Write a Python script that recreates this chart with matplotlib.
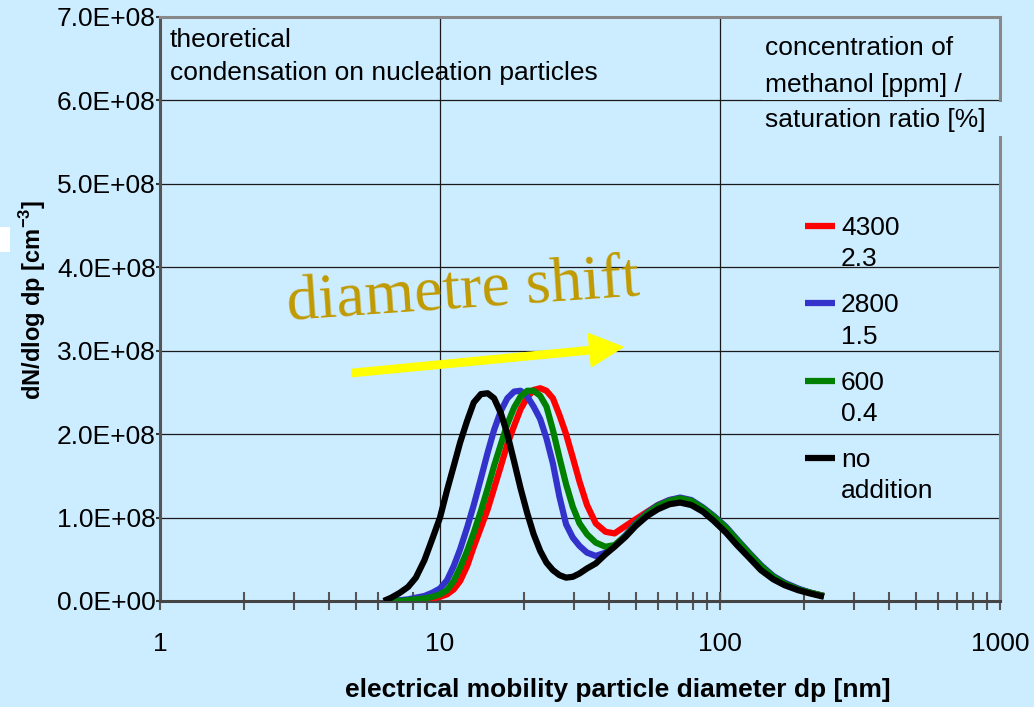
import numpy as np
import matplotlib
matplotlib.use("Agg")
import matplotlib.pyplot as plt
from matplotlib.ticker import FixedLocator, FuncFormatter, NullFormatter
from matplotlib.legend_handler import HandlerLine2D
from matplotlib.lines import Line2D
from matplotlib.patches import Rectangle

plt.rcParams['font.family'] = ['Liberation Sans', 'DejaVu Sans']
plt.rcParams['mathtext.fontset'] = 'custom'
plt.rcParams['mathtext.rm'] = 'Liberation Sans'
plt.rcParams['mathtext.bf'] = 'Liberation Sans:bold'

# particle diameter [nm]
diameter = [6.3, 6.7, 7.2, 7.7, 8.2, 8.8, 9.4, 10, 10.6, 11.2, 11.8, 12.5, 13.2,
            14, 14.8, 15.6, 16.5, 17.4, 18.4, 19.4, 20.5, 21.6, 22.8, 24, 25.3,
            26.7, 28.2, 29.8, 31.5, 33.5, 36, 39, 42, 46, 50, 55, 60, 66, 72, 79,
            87, 95, 105, 115, 127, 140, 155, 170, 190, 210, 235]

# dN/dlog dp in units of 1e8 cm^-3
meoh_4300 = [0.0, 0.0, 0.0, 0.01, 0.01, 0.02, 0.03, 0.05, 0.08, 0.14, 0.24, 0.42,
             0.65, 0.88, 1.10, 1.35, 1.62, 1.88, 2.10, 2.30, 2.44, 2.53, 2.55, 2.52,
             2.43, 2.23, 2.00, 1.72, 1.43, 1.15, 0.93, 0.83, 0.81, 0.90, 0.98, 1.07,
             1.15, 1.21, 1.23, 1.20, 1.11, 1.00, 0.88, 0.73, 0.57, 0.42, 0.29, 0.21,
             0.14, 0.10, 0.06]
meoh_2800 = [0.0, 0.0, 0.01, 0.02, 0.04, 0.06, 0.10, 0.15, 0.25, 0.42, 0.62, 0.88,
             1.15, 1.47, 1.78, 2.05, 2.28, 2.43, 2.51, 2.52, 2.45, 2.33, 2.18, 1.95,
             1.65, 1.25, 0.92, 0.76, 0.66, 0.58, 0.54, 0.58, 0.66, 0.79, 0.93, 1.06,
             1.15, 1.21, 1.24, 1.21, 1.12, 1.02, 0.89, 0.74, 0.58, 0.43, 0.30, 0.22,
             0.15, 0.10, 0.06]
meoh_600 = [0.0, 0.0, 0.0, 0.01, 0.02, 0.03, 0.05, 0.08, 0.13, 0.24, 0.40, 0.60,
            0.82, 1.08, 1.35, 1.62, 1.88, 2.12, 2.32, 2.45, 2.52, 2.52, 2.46, 2.33,
            2.05, 1.72, 1.40, 1.13, 0.93, 0.80, 0.70, 0.65, 0.67, 0.78, 0.92, 1.05,
            1.14, 1.20, 1.23, 1.20, 1.11, 1.01, 0.88, 0.73, 0.57, 0.42, 0.29, 0.21,
            0.14, 0.10, 0.06]
no_addition = [0.0, 0.04, 0.10, 0.17, 0.28, 0.49, 0.75, 1.00, 1.33, 1.62, 1.90, 2.16,
               2.38, 2.48, 2.49, 2.43, 2.25, 2.00, 1.67, 1.35, 1.05, 0.80, 0.60, 0.46,
               0.37, 0.31, 0.28, 0.29, 0.33, 0.39, 0.45, 0.56, 0.65, 0.77, 0.90, 1.02,
               1.10, 1.16, 1.18, 1.15, 1.07, 0.96, 0.82, 0.67, 0.52, 0.37, 0.26, 0.19,
               0.13, 0.09, 0.05]

series_labels = ["4300\n2.3", "2800\n1.5", "600\n0.4", "no\naddition"]
series_colors = ["#FF0000", "#3333CC", "#008000", "#000000"]

y_ticks = [0, 1e8, 2e8, 3e8, 4e8, 5e8, 6e8, 7e8]
x_ticks = [1, 10, 100, 1000]
x_tick_labels = ["1", "10", "100", "1000"]

BG = "#CCECFF"
FS = 19

fig = plt.figure(figsize=(10.34, 7.07), dpi=100, facecolor=BG)
ax = fig.add_axes([160 / 1034, 1 - 601 / 707, 840 / 1034, 584 / 707])
ax.set_facecolor(BG)

d = np.array(diameter)
curves = [meoh_4300, meoh_2800, meoh_600, no_addition]
# reference run first so the methanol runs sit on top of it
handles = [None] * 4
for i in [3, 0, 1, 2]:
    (ln,) = ax.plot(d, np.array(curves[i]) * 1e8, color=series_colors[i], lw=4.5,
                    solid_capstyle='butt', solid_joinstyle='round', zorder=3 + i * 0.1)
    handles[i] = ln

ax.set_xscale('log')
ax.set_xlim(1, 1000)
ax.set_ylim(0, 7e8)

ax.yaxis.set_major_locator(FixedLocator(y_ticks))
ax.yaxis.set_major_formatter(FuncFormatter(lambda v, p: f"{v:.1E}"))
ax.xaxis.set_major_locator(FixedLocator(x_ticks))
ax.xaxis.set_major_formatter(FuncFormatter(
    lambda v, p: x_tick_labels[x_ticks.index(round(v))] if round(v) in x_ticks else ""))
ax.xaxis.set_minor_locator(FixedLocator([m * 10 ** e for e in range(0, 3) for m in range(2, 10)]))
ax.xaxis.set_minor_formatter(NullFormatter())

ax.tick_params(axis='y', which='major', direction='out', length=3, width=1.5,
               color='#333333', labelsize=FS, pad=0)
ax.tick_params(axis='x', which='both', direction='inout', length=13, width=1.5,
               color='#555555', labelsize=FS, pad=16)

ax.grid(True, which='major', axis='both', color='#1a1a1a', lw=0.9)
ax.set_axisbelow(True)

for side in ['top', 'right']:
    ax.spines[side].set_color('#888888')
    ax.spines[side].set_linewidth(2.2)
ax.spines['left'].set_color('#555555')
ax.spines['left'].set_linewidth(2.2)
ax.spines['bottom'].set_color('#444444')
ax.spines['bottom'].set_linewidth(2.2)

ax.set_xlabel("electrical mobility particle diameter dp [nm]", fontsize=19,
              fontweight='bold', va='center')
ax.xaxis.set_label_coords((618 - 160) / 840, (601 - 690) / 584)
ax.set_ylabel(r"dN/dlog dp [cm$^{\mathbf{-3}}$]", fontsize=17, fontweight='bold',
              va='center')
ax.yaxis.set_label_coords((33 - 160) / 840, (601 - 300) / 584)

# heading in the upper left corner
ax.text((170 - 160) / 840, (601 - 40) / 584, "theoretical",
        transform=ax.transAxes, fontsize=FS, ha='left', va='center', zorder=5)
ax.text((170 - 160) / 840, (601 - 73) / 584, "condensation on nucleation particles",
        transform=ax.transAxes, fontsize=FS, ha='left', va='center', zorder=5)

# legend title, one box per line
title_lines = ["concentration of", "methanol [ppm] /", "saturation ratio [%]"]
title_y = [48, 85, 120]
for txt, yp in zip(title_lines, title_y):
    ax.text((765 - 160) / 840, (601 - yp) / 584, txt, transform=ax.transAxes,
            fontsize=FS, ha='left', va='center', zorder=6,
            bbox=dict(facecolor=BG, edgecolor='none', pad=2.5))
ax.add_patch(Rectangle(((759 - 160) / 840, (601 - 136) / 584), (1004 - 759) / 840,
                       (136 - 102) / 584, transform=ax.transAxes, facecolor=BG,
                       edgecolor='none', clip_on=False, zorder=5.5))


class RaisedLine(HandlerLine2D):
    """Legend key placed level with the first line of a two-line label."""

    def create_artists(self, legend, orig_handle, xdescent, ydescent, width,
                       height, fontsize, trans):
        arts = super().create_artists(legend, orig_handle, xdescent, ydescent,
                                      width, height, fontsize, trans)
        for a in arts:
            a.set_ydata(np.asarray(a.get_ydata()) + 0.68 * fontsize)
        return arts


leg = ax.legend(handles, series_labels, loc='upper left',
                bbox_to_anchor=((805 - 160) / 840, (601 - 216) / 584),
                frameon=False, fontsize=FS, handlelength=1.14, handletextpad=0.22,
                labelspacing=0.84, borderpad=0, borderaxespad=0,
                handler_map={Line2D: RaisedLine()})
for t in leg.get_texts():
    t.set_linespacing(1.38)
leg.set_zorder(7)

# annotation: shift of the nucleation mode
ax.text((288 - 160) / 840, (601 - 320) / 584, "diametre shift", transform=ax.transAxes,
        fontsize=46, family=['Liberation Serif', 'DejaVu Serif'], color='#C09A00',
        rotation=4, rotation_mode='anchor', ha='left', va='baseline', zorder=5)
ax.annotate("", xy=((623 - 160) / 840, (601 - 347) / 584),
            xytext=((352 - 160) / 840, (601 - 373) / 584),
            xycoords='axes fraction', textcoords='axes fraction',
            arrowprops=dict(arrowstyle='simple,head_length=1.0,head_width=1.0,tail_width=0.22',
                            mutation_scale=24, color='#FFFF00', shrinkA=0, shrinkB=0),
            zorder=5)

fig.patches.append(Rectangle((0, 1 - 252 / 707), 10 / 1034, 25 / 707,
                             transform=fig.transFigure, facecolor='white',
                             edgecolor='none'))

fig.savefig("out.png", dpi=100, facecolor=BG)
